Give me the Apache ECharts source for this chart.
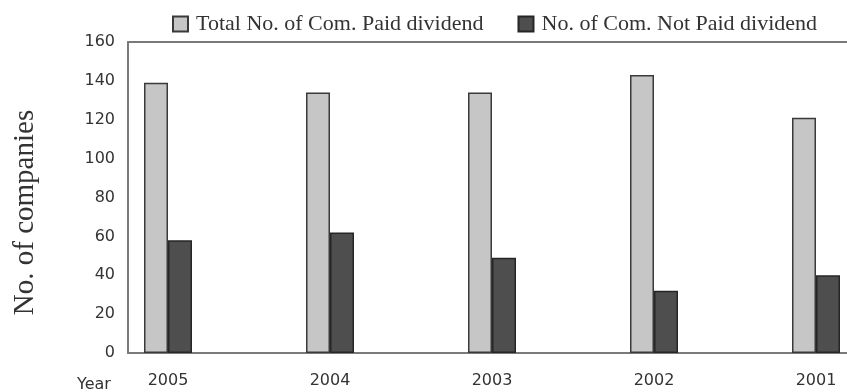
<!DOCTYPE html>
<html>
<head>
<meta charset="utf-8">
<script src="https://cdn.jsdelivr.net/npm/echarts@6/dist/echarts.min.js"></script>
<style>
  html, body { margin: 0; padding: 0; background: #ffffff; }
  #chart { width: 847px; height: 392px; }
</style>
</head>
<body>
<div id="chart"></div>
<script>
// Dividend payment counts by year
const years = ['2005', '2004', '2003', '2002', '2001'];
const paidCompanies = [139, 134, 134, 143, 121];
const notPaidCompanies = [58, 62, 49, 32, 40];
const yTicks = { min: 0, max: 160, interval: 20 };

const seriesNames = ['Total No. of Com. Paid dividend', 'No. of Com. Not Paid dividend'];
const serifFont = '"Liberation Serif", "DejaVu Serif", serif';
const sansFont = '"DejaVu Sans", Verdana, sans-serif';

// Plot frame runs off the right edge; year groups sit 162px apart,
// the first one 40px inside the left axis.
const plotLeft = 128, plotRight = 847, firstGroup = 168, groupStep = 162;
const xMin = (plotLeft - firstGroup) / groupStep;
const xMax = (plotRight - firstGroup) / groupStep;
const yearIndex = years.map((_, i) => i);

const frameLine = { show: true, onZero: false, lineStyle: { color: '#7a7a7a', width: 2 } };

const chart = echarts.init(document.getElementById('chart'), null, { renderer: 'canvas' });

chart.setOption({
  backgroundColor: '#ffffff',
  animation: false,
  title: {
    text: 'Year',
    left: 72,
    top: 372,
    textStyle: { fontFamily: sansFont, fontSize: 16, fontWeight: 'normal', color: '#333' }
  },
  legend: {
    left: 167,
    top: 8,
    itemWidth: 15,
    itemHeight: 15,
    itemGap: 34,
    icon: 'rect',
    textStyle: { fontFamily: serifFont, fontSize: 22, color: '#333', padding: [0, 0, 0, 3] },
    data: seriesNames
  },
  grid: { left: plotLeft, right: 0, top: 42, bottom: 39 },
  xAxis: [
    {
      type: 'value', min: xMin, max: xMax, position: 'bottom',
      axisLine: frameLine, axisTick: { show: false }, splitLine: { show: false },
      axisLabel: {
        customValues: yearIndex,
        formatter: (v) => years[Math.round(v)],
        fontFamily: sansFont, fontSize: 16, color: '#333', margin: 20
      }
    },
    {
      type: 'value', min: xMin, max: xMax, position: 'top',
      axisLine: frameLine, axisTick: { show: false }, splitLine: { show: false },
      axisLabel: { show: false }
    }
  ],
  yAxis: {
    type: 'value', min: yTicks.min, max: yTicks.max, interval: yTicks.interval,
    position: 'left',
    name: 'No. of companies', nameLocation: 'middle', nameGap: 88,
    nameTextStyle: { fontFamily: serifFont, fontSize: 29, color: '#333', padding: [0, 30, 0, 0] },
    axisLine: frameLine,
    axisTick: { show: false },
    splitLine: { show: false },
    axisLabel: { fontFamily: sansFont, fontSize: 16, color: '#333', margin: 13 }
  },
  series: [
    {
      name: seriesNames[0], type: 'bar',
      data: yearIndex.map((i) => [i, paidCompanies[i]]),
      barWidth: 24, barGap: '0%',
      itemStyle: { color: '#c6c6c6', borderColor: '#3a3a3a', borderWidth: 1.5 }
    },
    {
      name: seriesNames[1], type: 'bar',
      data: yearIndex.map((i) => [i, notPaidCompanies[i]]),
      barWidth: 24, barGap: '0%',
      itemStyle: { color: '#4e4e4e', borderColor: '#262626', borderWidth: 1.5 }
    }
  ]
});
</script>
</body>
</html>
